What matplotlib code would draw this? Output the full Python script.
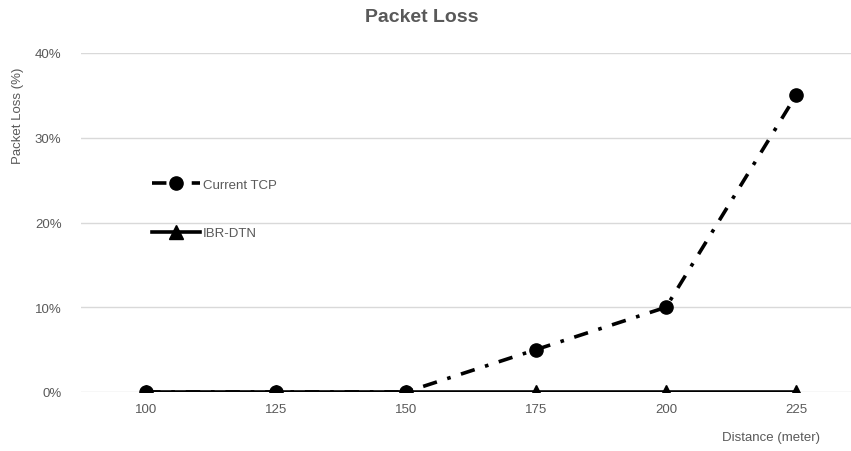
import matplotlib
matplotlib.use("Agg")
import matplotlib.pyplot as plt
from matplotlib.ticker import FuncFormatter

plt.rcParams['font.family'] = ['Liberation Sans', 'DejaVu Sans']

distances = ["100", "125", "150", "175", "200", "225"]
current_tcp = [0, 0, 0, 5, 10, 35]
ibr_dtn = [0, 0, 0, 0, 0, 0]
y_ticks = [0, 10, 20, 30, 40]

grey = "#595959"

fig = plt.figure(figsize=(8.51, 4.52), dpi=100)
ax = fig.add_axes([81 / 851, 59 / 452, 780 / 851, 339 / 452])

x = list(range(len(distances)))
ax.plot(x, current_tcp, color="black", lw=2.6, linestyle=(0, (4, 3, 1, 3)),
        marker="o", markersize=9.5, label="Current TCP", zorder=3)
ax.plot(x, ibr_dtn, color="black", lw=2.6, marker="^", markersize=10,
        label="IBR-DTN", zorder=4)

ax.set_xlim(-0.5, len(distances) - 0.5)
ax.set_ylim(0, 40)
ax.set_xticks(x)
ax.set_xticklabels(distances)
ax.set_yticks(y_ticks)
ax.yaxis.set_major_formatter(FuncFormatter(lambda v, p: f"{v:.0f}%"))
ax.grid(axis="y", color="#d9d9d9", lw=1)
ax.set_axisbelow(True)
for s in ax.spines.values():
    s.set_visible(False)
ax.tick_params(axis="both", length=0, labelsize=9.5, colors=grey)
ax.tick_params(axis="x", pad=8)
ax.tick_params(axis="y", pad=14)

fig.text(422 / 851, 1 - 17 / 452, "Packet Loss", ha="center", va="center",
         fontsize=14, fontweight="bold", color=grey)
fig.text(18 / 851, 1 - 116 / 452, "Packet Loss (%)", ha="center", va="center",
         rotation=90, fontsize=9.5, color=grey)
fig.text(820 / 851, 1 - 438 / 452, "Distance (meter)", ha="right", va="center",
         fontsize=9.5, color=grey)

leg = ax.legend(loc="upper left", bbox_to_anchor=(0.083, 0.649), frameon=False,
                fontsize=9.5, handlelength=3.6, labelspacing=2.75, borderpad=0,
                handletextpad=0.25, labelcolor=grey)

fig.savefig("out.png", dpi=100)
